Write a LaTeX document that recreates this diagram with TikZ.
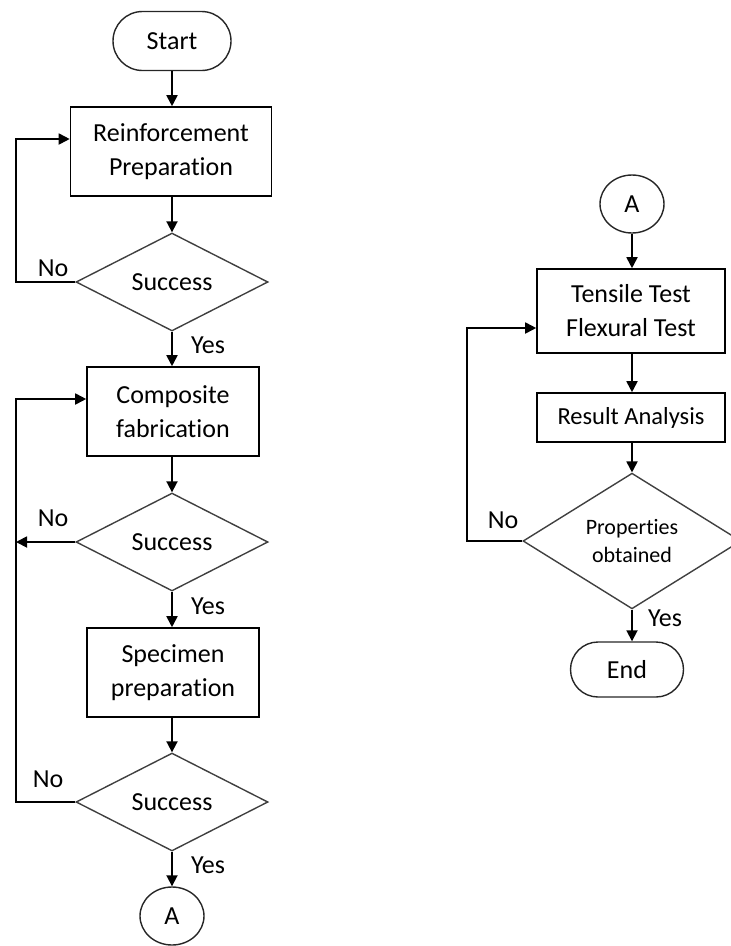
\documentclass[tikz,border=0pt]{standalone}
\usepackage{fontspec}
\setmainfont{Carlito}[Ligatures={NoCommon}]
\usetikzlibrary{shapes.geometric,shapes.misc,arrows.meta,calc}
\begin{document}
\begin{tikzpicture}[x=1pt,y=-1pt,
  every node/.style={font=\fontsize{26}{34}\selectfont},
  procbox/.style={draw=black,line width=1.6pt,rectangle,align=center,inner sep=0pt},
  termbox/.style={draw=black!85,line width=1.4pt,rounded rectangle,inner sep=0pt},
  decbox/.style={draw=black!75,line width=1.4pt,diamond,inner sep=0pt,align=center},
  conbox/.style={draw=black!85,line width=1.4pt,ellipse,inner sep=0pt},
  arr/.style={line width=1.8pt,-{Triangle[length=11pt,width=11pt]}},
  lbl/.style={inner sep=0pt}]
\useasboundingbox (0,0) rectangle (731,946);
% left column
\node[termbox,minimum width=118pt,minimum height=59pt] (start) at (172,41) {Start};
\node[procbox,minimum width=201pt,minimum height=89pt] (prep) at (171,151.5) {Reinforcement\\Preparation};
\node[decbox,minimum width=192pt,minimum height=97pt] (d1) at (172,282) {Success};
\node[procbox,minimum width=172pt,minimum height=89pt] (comp) at (173,411.5) {Composite\\fabrication};
\node[decbox,minimum width=192pt,minimum height=95pt] (d2) at (172,542) {Success};
\node[procbox,minimum width=172pt,minimum height=89pt] (spec) at (173,672.5) {Specimen\\preparation};
\node[decbox,minimum width=192pt,minimum height=96pt] (d3) at (172,802) {Success};
\node[conbox,minimum width=64pt,minimum height=58pt] (a1) at (172,916) {A};
% right column
\node[conbox,minimum width=64pt,minimum height=58pt] (a2) at (632,204) {A};
\node[procbox,minimum width=188pt,minimum height=84pt] (test) at (631,311) {Tensile Test\\Flexural Test};
\node[procbox,minimum width=188pt,minimum height=49pt,font=\fontsize{24.5}{30}\selectfont] (res) at (631,417.5) {Result Analysis};
\node[decbox,minimum width=218pt,minimum height=128pt,font=\fontsize{22}{28}\selectfont] (d4) at (632,541) {Properties\\obtained};
\node[termbox,minimum width=113pt,minimum height=55pt] (end) at (627,669.5) {End};
% loop corners
\coordinate (c1) at (16,139);
\coordinate (c2) at (16,399);
\coordinate (c3) at (467,328);
% connectors left
\draw[arr] (start.south) -- (start.south |- prep.north);
\draw[arr] (d1.north |- prep.south) -- (d1.north);
\draw[arr] (d1.south) -- (d1.south |- comp.north);
\draw[arr] (d2.north |- comp.south) -- (d2.north);
\draw[arr] (d2.south) -- (d2.south |- spec.north);
\draw[arr] (d3.north |- spec.south) -- (d3.north);
\draw[arr] (d3.south) -- (a1.north);
\draw[arr] (d1.west) -| (c1) -- (c1 -| prep.west);
\draw[arr] (d3.west) -| (c2) -- (c2 -| comp.west);
\draw[arr] (d2.west) -- (d2.west -| c2);
% connectors right
\draw[arr] (a2.south) -- (a2.south |- test.north);
\draw[arr] (a2.south |- test.south) -- (a2.south |- res.north);
\draw[arr] (d4.north |- res.south) -- (d4.north);
\draw[arr] (d4.south) -- (d4.south |- end.north);
\draw[arr] (d4.west) -| (c3) -- (c3 -| test.west);
% labels
\node[lbl] (n1) at (53,268) {No};
\node[lbl] (n2) at (53,518) {No};
\node[lbl] (n3) at (48,779) {No};
\node[lbl] (n4) at (503,520) {No};
\node[lbl] (y1) at (208,345) {Yes};
\node[lbl] (y2) at (208,606) {Yes};
\node[lbl] (y3) at (208,865) {Yes};
\node[lbl] (y4) at (665,618) {Yes};
\end{tikzpicture}
\end{document}
